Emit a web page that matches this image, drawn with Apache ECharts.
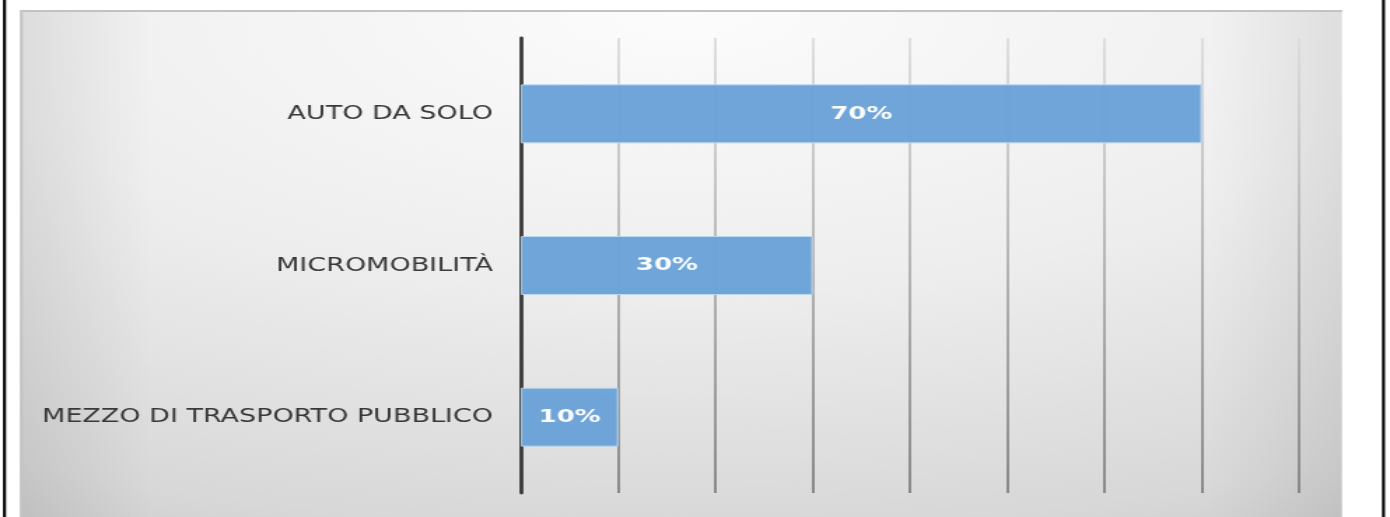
<!DOCTYPE html>
<html>
<head>
<meta charset="utf-8">
<script src="https://cdn.jsdelivr.net/npm/echarts@6/dist/echarts.min.js"></script>
<style>
  html, body { margin: 0; padding: 0; background: #fff; overflow: hidden; }
  /* the original picture is stretched sideways, so the chart is drawn narrow and widened */
  #main { width: 993px; height: 517px; transform: scaleX(1.3998); transform-origin: 0 0; }
</style>
</head>
<body>
<div id="main"></div>
<script>
var categories = ['AUTO DA SOLO', 'MICROMOBILITÀ', 'MEZZO DI TRASPORTO PUBBLICO'];
var values = [70, 30, 10];
var axisMin = 0;
var axisMax = 80;
var axisStep = 10;

var sx = 1.3998;          // horizontal stretch of the page
var areaLeft = 20 / sx;
var areaWidth = (1342 - 20) / sx;
var areaTop = 10;
var areaHeight = 507;

var chart = echarts.init(document.getElementById('main'));

var option = {
    animation: false,
    graphic: [
        {
            type: 'rect', z: -10, silent: true,
            x: areaLeft, y: areaTop, scaleX: areaWidth / areaHeight,
            shape: { x: 0, y: 0, width: areaHeight, height: areaHeight },
            style: {
                fill: new echarts.graphic.RadialGradient(0.5, 0, 1.2, [
                    { offset: 0, color: '#fcfcfc' },
                    { offset: 0.45, color: '#eeeeee' },
                    { offset: 0.85, color: '#d8d8d8' },
                    { offset: 1, color: '#c9c9c9' }
                ])
            }
        },
        {
            type: 'rect', z: -9, silent: true,
            shape: { x: areaLeft, y: areaTop, width: areaWidth, height: areaHeight },
            style: {
                fill: new echarts.graphic.LinearGradient(0, 0, 1, 0, [
                    { offset: 0, color: 'rgba(0,0,0,0.08)' },
                    { offset: 0.1, color: 'rgba(0,0,0,0)' },
                    { offset: 0.9, color: 'rgba(0,0,0,0)' },
                    { offset: 1, color: 'rgba(0,0,0,0.07)' }
                ])
            }
        },
        {
            type: 'rect', z: -8, silent: true,
            shape: { x: areaLeft, y: areaTop, width: areaWidth, height: 2 },
            style: { fill: '#c2c2c2' }
        },
        {
            type: 'rect', z: -8, silent: true,
            shape: { x: areaLeft, y: areaTop, width: 2, height: areaHeight },
            style: { fill: '#c4c4c4' }
        },
        {
            type: 'rect', z: -8, silent: true,
            shape: { x: 3 / sx, y: 0, width: 3 / sx, height: 517 },
            style: { fill: '#000' }
        },
        {
            type: 'rect', z: -8, silent: true,
            shape: { x: 1382 / sx, y: 0, width: 3 / sx, height: 517 },
            style: { fill: '#000' }
        }
    ],
    grid: {
        left: 521 / sx,
        right: 993 - 1299 / sx,
        top: 38,
        bottom: 24
    },
    xAxis: {
        type: 'value',
        min: axisMin,
        max: axisMax,
        interval: axisStep,
        axisLine: { show: false },
        axisTick: { show: false },
        axisLabel: { show: false },
        splitLine: {
            show: true,
            lineStyle: {
                width: 1.8,
                color: new echarts.graphic.LinearGradient(0, 38, 0, 493, [
                    { offset: 0, color: '#dcdcdc' },
                    { offset: 1, color: '#808080' }
                ], true)
            }
        }
    },
    yAxis: {
        type: 'category',
        data: categories,
        inverse: true,
        axisLine: { show: true, lineStyle: { color: '#3c3c3c', width: 2.8 } },
        axisTick: { show: false },
        splitLine: { show: false },
        axisLabel: {
            margin: 20,
            color: '#383838',
            fontSize: 19.3,
            fontFamily: 'DejaVu Sans'
        }
    },
    series: [
        {
            type: 'bar',
            data: values,
            barWidth: 59,
            itemStyle: {
                color: '#6aa2d7',
                borderColor: '#bdd7ee',
                borderWidth: 1,
                opacity: 0.97
            },
            label: {
                show: true,
                position: 'inside',
                formatter: '{c}%',
                color: '#fff',
                fontWeight: 'bold',
                fontSize: 18.5,
                fontFamily: 'DejaVu Sans'
            }
        }
    ]
};

chart.setOption(option);
</script>
</body>
</html>
